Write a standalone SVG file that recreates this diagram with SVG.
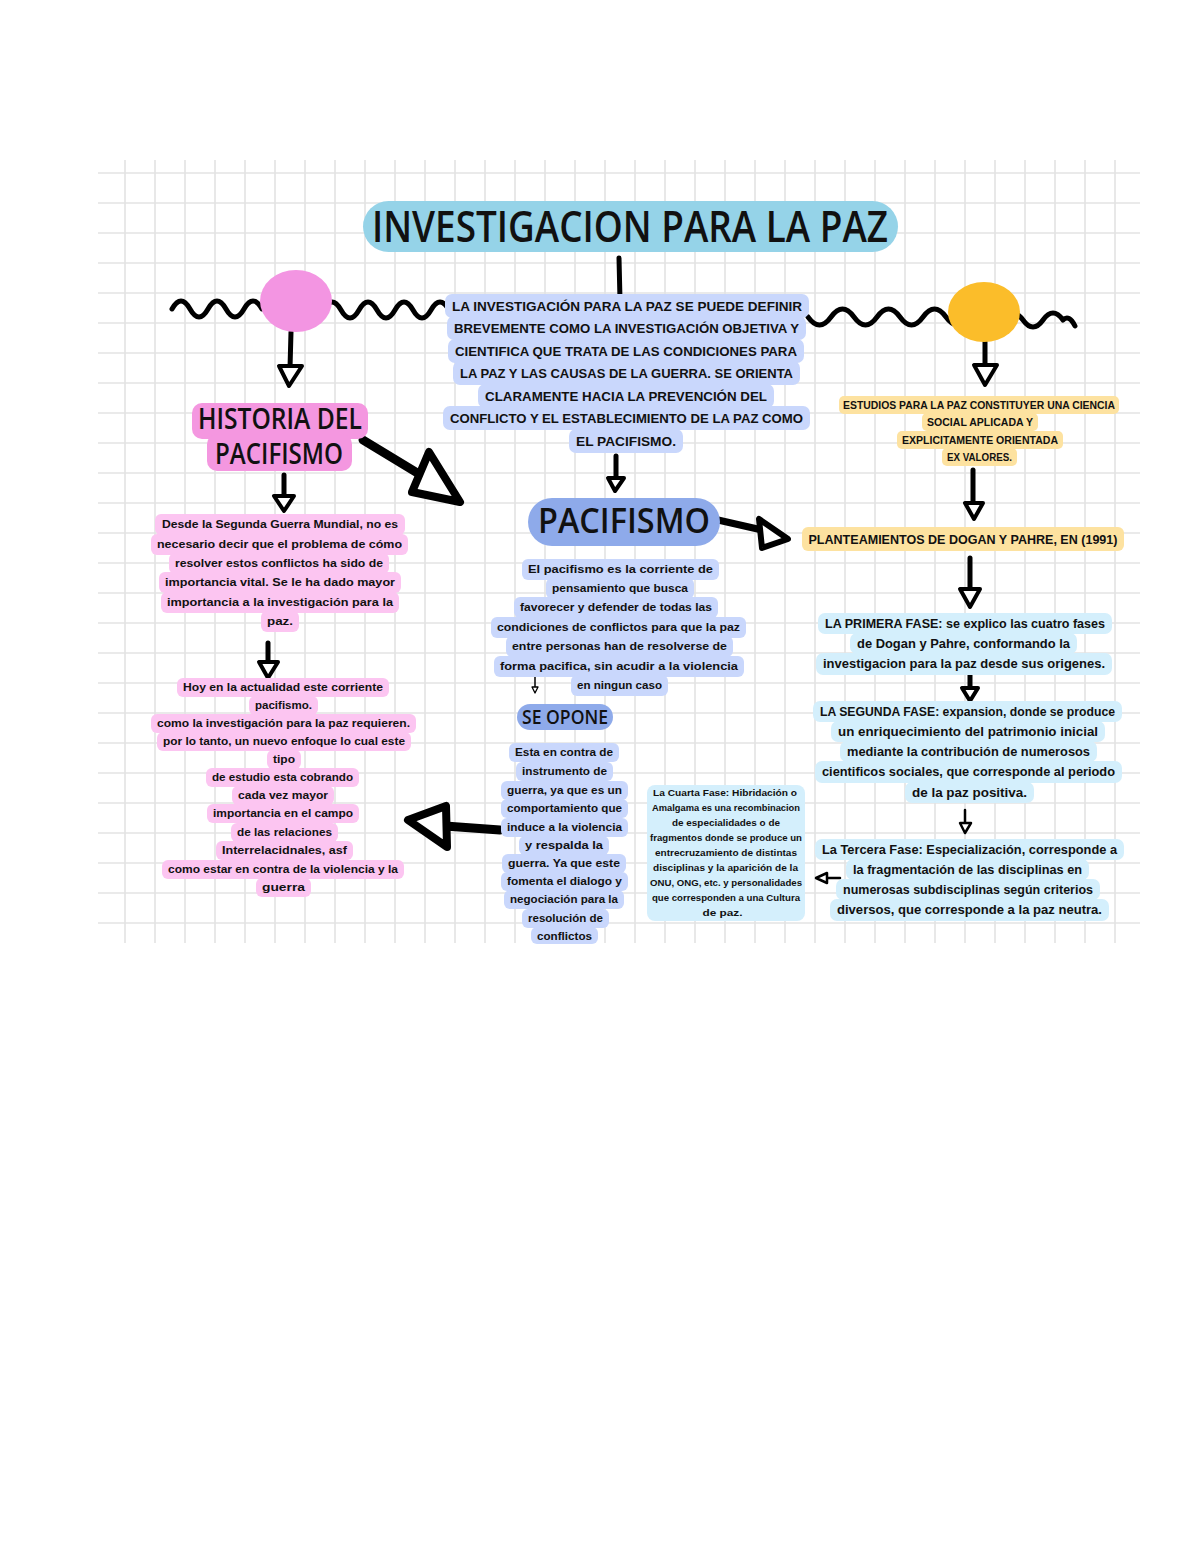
<svg xmlns="http://www.w3.org/2000/svg" width="1200" height="1553" viewBox="0 0 1200 1553">
<style>
.grid{fill:none;stroke:#e3e3e3;stroke-width:1.6}
.ln{fill:none;stroke:#000;stroke-width:5;stroke-linecap:round;stroke-linejoin:round}
.th{fill:none;stroke:#000;stroke-width:2.5;stroke-linecap:round}
.hd{fill:#fff;stroke:#000;stroke-width:4;stroke-linejoin:round}
.hd2{fill:#fff;stroke:#000;stroke-width:2.5;stroke-linejoin:round}
.big{fill:none;stroke:#000;stroke-width:9;stroke-linecap:round}
.bighd{fill:#fff;stroke:#000;stroke-width:8;stroke-linejoin:round}
.wave{fill:none;stroke:#000;stroke-width:5;stroke-linecap:round;stroke-linejoin:round}
.hb{fill:#c9d7fc}
.hp{fill:#fcc5f1}
.ho{fill:#fde2a0}
.hc{fill:#d4effc}
.t{font-family:"Liberation Sans","DejaVu Sans",sans-serif;font-weight:bold;fill:#111;text-anchor:middle}
.h{font-family:"Open Sans","DejaVu Sans",sans-serif;font-weight:600;fill:#111;text-anchor:middle}
</style>
<rect width="1200" height="1553" fill="#fff"/>
<path class="grid" d="M98 173H1140M98 203H1140M98 233H1140M98 263H1140M98 293H1140M98 323H1140M98 353H1140M98 383H1140M98 413H1140M98 443H1140M98 473H1140M98 503H1140M98 533H1140M98 563H1140M98 593H1140M98 623H1140M98 653H1140M98 683H1140M98 713H1140M98 743H1140M98 773H1140M98 803H1140M98 833H1140M98 863H1140M98 893H1140M98 923H1140M125 160V943M155 160V943M185 160V943M215 160V943M245 160V943M275 160V943M305 160V943M335 160V943M365 160V943M395 160V943M425 160V943M455 160V943M485 160V943M515 160V943M545 160V943M575 160V943M605 160V943M635 160V943M665 160V943M695 160V943M725 160V943M755 160V943M785 160V943M815 160V943M845 160V943M875 160V943M905 160V943M935 160V943M965 160V943M995 160V943M1025 160V943M1055 160V943M1085 160V943M1115 160V943"/>

<g id="connectors">
  <line class="ln" x1="619" y1="258" x2="620" y2="300"/>
  <path class="wave" d="M172,309 q9,-16 18,0 t18,0 t18,0 t18,0 t18,0"/>
  <path class="wave" d="M323,310 q9,-16 18,0 t18,0 t18,0 t18,0 t18,0 t18,0 t18,0"/>
  <path class="wave" d="M808,317 q11.5,16 23,0 t23,0 t23,0 t23,0 t23,0 t23,0 t23,0"/>
  <path class="wave" d="M1003,320 q10,-14 20,0 t20,0 t20,0 q6,-6 12,6"/>
  <line class="ln" x1="291" y1="332" x2="290" y2="368"/>
  <polygon class="hd" points="279,366 302,366 289,386"/>
  <line class="ln" x1="985" y1="342" x2="985" y2="367"/>
  <polygon class="hd" points="974,365 997,365 985,385"/>
  <line class="ln" x1="284" y1="475" x2="284" y2="497"/>
  <polygon class="hd" points="274,496 294,496 284,511"/>
  <line class="ln" x1="268" y1="643" x2="268" y2="663"/>
  <polygon class="hd" points="259,662 278,662 268,678"/>
  <line class="ln" x1="616" y1="456" x2="616" y2="479"/>
  <polygon class="hd" points="608,478 624,478 615,491"/>
  <line class="ln" x1="973" y1="470" x2="973" y2="504"/>
  <polygon class="hd" points="965,503 983,503 974,519"/>
  <line class="ln" x1="970" y1="558" x2="970" y2="590"/>
  <polygon class="hd" points="960,589 980,589 970,607"/>
  <line class="ln" x1="970" y1="672" x2="970" y2="689"/>
  <polygon class="hd" points="962,688 978,688 970,701"/>
  <line class="th" x1="965" y1="810" x2="965" y2="824"/>
  <polygon class="hd2" points="960,823 971,823 965,833"/>
  <line class="th" x1="840" y1="878" x2="826" y2="878"/>
  <polygon class="hd2" points="827,873 827,883 816,878"/>
  <line class="th" style="stroke-width:1.5" x1="535" y1="677" x2="535" y2="688"/>
  <polygon class="hd2" style="stroke-width:1.3" points="532,687 538,687 535,693"/>
  <line class="big" x1="363" y1="440" x2="424" y2="477"/>
  <polygon class="bighd" points="412,492 429,452 460,502"/>
  <line class="big" style="stroke-width:7" x1="718" y1="520" x2="762" y2="530"/>
  <polygon class="bighd" style="stroke-width:6" points="759,519 762,548 788,539"/>
  <line class="big" x1="500" y1="830" x2="445" y2="826"/>
  <polygon class="bighd" points="408,820 446,806 447,847"/>
</g>

<g id="deco-circles">
  <ellipse cx="296" cy="301" rx="36" ry="31" fill="#f395e2"/>
  <ellipse cx="984" cy="312" rx="36" ry="30" fill="#fbbd2a"/>
</g>

<g id="title">
  <rect x="363" y="201" width="535" height="51" rx="25.5" fill="#95d3e8"/>
  <text class="h" x="630" y="242" font-size="44" textLength="516" lengthAdjust="spacingAndGlyphs">INVESTIGACION PARA LA PAZ</text>
</g>

<g id="definicion">
  <rect class="hb" x="445" y="294" width="364" height="24" rx="7"/>
  <rect class="hb" x="447" y="316" width="359" height="24" rx="7"/>
  <rect class="hb" x="448" y="339" width="356" height="24" rx="7"/>
  <rect class="hb" x="453" y="361" width="347" height="24" rx="7"/>
  <rect class="hb" x="478" y="384" width="296" height="24" rx="7"/>
  <rect class="hb" x="443" y="406" width="367" height="24" rx="7"/>
  <rect class="hb" x="569" y="429" width="114" height="24" rx="7"/>
  <g class="t" font-size="13">
    <text x="627" y="311" textLength="350" lengthAdjust="spacingAndGlyphs">LA INVESTIGACIÓN PARA LA PAZ SE PUEDE DEFINIR</text>
    <text x="626.5" y="333" textLength="345" lengthAdjust="spacingAndGlyphs">BREVEMENTE COMO LA INVESTIGACIÓN OBJETIVA Y</text>
    <text x="626" y="356" textLength="342" lengthAdjust="spacingAndGlyphs">CIENTIFICA QUE TRATA DE LAS CONDICIONES PARA</text>
    <text x="626.5" y="378" textLength="333" lengthAdjust="spacingAndGlyphs">LA PAZ Y LAS CAUSAS DE LA GUERRA. SE ORIENTA</text>
    <text x="626" y="401" textLength="282" lengthAdjust="spacingAndGlyphs">CLARAMENTE HACIA LA PREVENCIÓN DEL</text>
    <text x="626.5" y="423" textLength="353" lengthAdjust="spacingAndGlyphs">CONFLICTO Y EL ESTABLECIMIENTO DE LA PAZ COMO</text>
    <text x="626" y="446" textLength="100" lengthAdjust="spacingAndGlyphs">EL PACIFISMO.</text>
  </g>
</g>

<g id="historia">
  <rect x="192" y="403" width="176" height="36" rx="10" fill="#f497e0"/>
  <rect x="207" y="434" width="145" height="37" rx="10" fill="#f497e0"/>
  <text class="h" x="280" y="429" font-size="28" textLength="164" lengthAdjust="spacingAndGlyphs">HISTORIA DEL</text>
  <text class="h" x="279" y="464" font-size="28" textLength="128" lengthAdjust="spacingAndGlyphs">PACIFISMO</text>
</g>

<g id="historia-texto1">
  <rect class="hp" x="155" y="514" width="250" height="21" rx="6"/>
  <rect class="hp" x="151" y="534" width="257" height="21" rx="6"/>
  <rect class="hp" x="169" y="553" width="220" height="21" rx="6"/>
  <rect class="hp" x="159" y="572" width="242" height="21" rx="6"/>
  <rect class="hp" x="161" y="592" width="238" height="21" rx="6"/>
  <rect class="hp" x="261" y="611" width="38" height="21" rx="6"/>
  <g class="t" font-size="11.5">
    <text x="280" y="528" textLength="236" lengthAdjust="spacingAndGlyphs">Desde la Segunda Guerra Mundial, no es</text>
    <text x="279.5" y="548" textLength="245" lengthAdjust="spacingAndGlyphs">necesario decir que el problema de cómo</text>
    <text x="279" y="567" textLength="208" lengthAdjust="spacingAndGlyphs">resolver estos conflictos ha sido de</text>
    <text x="280" y="586" textLength="230" lengthAdjust="spacingAndGlyphs">importancia vital. Se le ha dado mayor</text>
    <text x="280" y="606" textLength="226" lengthAdjust="spacingAndGlyphs">importancia a la investigación para la</text>
    <text x="280" y="625" textLength="26" lengthAdjust="spacingAndGlyphs">paz.</text>
  </g>
</g>

<g id="historia-texto2">
  <rect class="hp" x="177" y="678" width="212" height="19" rx="6"/>
  <rect class="hp" x="249" y="696" width="69" height="19" rx="6"/>
  <rect class="hp" x="151" y="714" width="265" height="19" rx="6"/>
  <rect class="hp" x="157" y="732" width="254" height="19" rx="6"/>
  <rect class="hp" x="267" y="750" width="34" height="19" rx="6"/>
  <rect class="hp" x="206" y="768" width="153" height="19" rx="6"/>
  <rect class="hp" x="232" y="786" width="102" height="19" rx="6"/>
  <rect class="hp" x="207" y="804" width="152" height="19" rx="6"/>
  <rect class="hp" x="231" y="823" width="107" height="19" rx="6"/>
  <rect class="hp" x="216" y="841" width="137" height="19" rx="6"/>
  <rect class="hp" x="162" y="860" width="242" height="19" rx="6"/>
  <rect class="hp" x="256" y="878" width="55" height="19" rx="6"/>
  <g class="t" font-size="11">
    <text x="283" y="691" textLength="200" lengthAdjust="spacingAndGlyphs">Hoy en la actualidad este corriente</text>
    <text x="283.5" y="709" textLength="57" lengthAdjust="spacingAndGlyphs">pacifismo.</text>
    <text x="283.5" y="727" textLength="253" lengthAdjust="spacingAndGlyphs">como la investigación para la paz requieren.</text>
    <text x="284" y="745" textLength="242" lengthAdjust="spacingAndGlyphs">por lo tanto, un nuevo enfoque lo cual este</text>
    <text x="284" y="763" textLength="22" lengthAdjust="spacingAndGlyphs">tipo</text>
    <text x="282.5" y="781" textLength="141" lengthAdjust="spacingAndGlyphs">de estudio esta cobrando</text>
    <text x="283" y="799" textLength="90" lengthAdjust="spacingAndGlyphs">cada vez mayor</text>
    <text x="283" y="817" textLength="140" lengthAdjust="spacingAndGlyphs">importancia en el campo</text>
    <text x="284.5" y="836" textLength="95" lengthAdjust="spacingAndGlyphs">de las relaciones</text>
    <text x="284.5" y="854" textLength="125" lengthAdjust="spacingAndGlyphs">Interrelacidnales, asf</text>
    <text x="283" y="873" textLength="230" lengthAdjust="spacingAndGlyphs">como estar en contra de la violencia y la</text>
    <text x="283.5" y="891" textLength="43" lengthAdjust="spacingAndGlyphs">guerra</text>
  </g>
</g>

<g id="pacifismo">
  <rect x="528" y="498" width="192" height="48" rx="24" fill="#8eaaea"/>
  <text class="h" x="624" y="533" font-size="34" textLength="172" lengthAdjust="spacingAndGlyphs">PACIFISMO</text>
</g>

<g id="pacifismo-texto">
  <rect class="hb" x="522" y="559" width="197" height="21" rx="6"/>
  <rect class="hb" x="546" y="578" width="148" height="21" rx="6"/>
  <rect class="hb" x="514" y="597" width="204" height="21" rx="6"/>
  <rect class="hb" x="491" y="617" width="255" height="21" rx="6"/>
  <rect class="hb" x="506" y="636" width="227" height="21" rx="6"/>
  <rect class="hb" x="494" y="656" width="250" height="21" rx="6"/>
  <rect class="hb" x="571" y="675" width="97" height="21" rx="6"/>
  <g class="t" font-size="11.5">
    <text x="620.5" y="573" textLength="185" lengthAdjust="spacingAndGlyphs">El pacifismo es la corriente de</text>
    <text x="620" y="592" textLength="136" lengthAdjust="spacingAndGlyphs">pensamiento que busca</text>
    <text x="616" y="611" textLength="192" lengthAdjust="spacingAndGlyphs">favorecer y defender de todas las</text>
    <text x="618.5" y="631" textLength="243" lengthAdjust="spacingAndGlyphs">condiciones de conflictos para que la paz</text>
    <text x="619.5" y="650" textLength="215" lengthAdjust="spacingAndGlyphs">entre personas han de resolverse de</text>
    <text x="619" y="670" textLength="238" lengthAdjust="spacingAndGlyphs">forma pacifica, sin acudir a la violencia</text>
    <text x="619.5" y="689" textLength="85" lengthAdjust="spacingAndGlyphs">en ningun caso</text>
  </g>
</g>

<g id="se-opone">
  <rect x="517" y="704" width="96" height="26" rx="13" fill="#8eaaea"/>
  <text class="h" x="565" y="724" font-size="19" textLength="86" lengthAdjust="spacingAndGlyphs">SE OPONE</text>
</g>

<g id="se-opone-texto">
  <rect class="hb" x="509" y="743" width="110" height="19" rx="6"/>
  <rect class="hb" x="516" y="762" width="97" height="19" rx="6"/>
  <rect class="hb" x="501" y="781" width="127" height="19" rx="6"/>
  <rect class="hb" x="501" y="799" width="127" height="19" rx="6"/>
  <rect class="hb" x="501" y="818" width="127" height="19" rx="6"/>
  <rect class="hb" x="519" y="836" width="90" height="19" rx="6"/>
  <rect class="hb" x="502" y="854" width="124" height="19" rx="6"/>
  <rect class="hb" x="501" y="872" width="127" height="19" rx="6"/>
  <rect class="hb" x="504" y="890" width="120" height="19" rx="6"/>
  <rect class="hb" x="522" y="909" width="87" height="19" rx="6"/>
  <rect class="hb" x="531" y="927" width="67" height="17" rx="6"/>
  <g class="t" font-size="11">
    <text x="564" y="756" textLength="98" lengthAdjust="spacingAndGlyphs">Esta en contra de</text>
    <text x="564.5" y="775" textLength="85" lengthAdjust="spacingAndGlyphs">instrumento de</text>
    <text x="564.5" y="794" textLength="115" lengthAdjust="spacingAndGlyphs">guerra, ya que es un</text>
    <text x="564.5" y="812" textLength="115" lengthAdjust="spacingAndGlyphs">comportamiento que</text>
    <text x="564.5" y="831" textLength="115" lengthAdjust="spacingAndGlyphs">induce a la violencia</text>
    <text x="564" y="849" textLength="78" lengthAdjust="spacingAndGlyphs">y respalda la</text>
    <text x="564" y="867" textLength="112" lengthAdjust="spacingAndGlyphs">guerra. Ya que este</text>
    <text x="564.5" y="885" textLength="115" lengthAdjust="spacingAndGlyphs">fomenta el dialogo y</text>
    <text x="564" y="903" textLength="108" lengthAdjust="spacingAndGlyphs">negociación para la</text>
    <text x="565.5" y="922" textLength="75" lengthAdjust="spacingAndGlyphs">resolución de</text>
    <text x="564.5" y="940" textLength="55" lengthAdjust="spacingAndGlyphs">conflictos</text>
  </g>
</g>

<g id="cuarta-fase">
  <rect class="hc" x="647" y="785" width="158" height="136" rx="8"/>
  <g class="t" font-size="8.5">
    <text x="725" y="796" textLength="144" lengthAdjust="spacingAndGlyphs">La Cuarta Fase: Hibridación o</text>
    <text x="726" y="811" textLength="148" lengthAdjust="spacingAndGlyphs">Amalgama es una recombinacion</text>
    <text x="726" y="826" textLength="108" lengthAdjust="spacingAndGlyphs">de especialidades o de</text>
    <text x="726" y="841" textLength="152" lengthAdjust="spacingAndGlyphs">fragmentos donde se produce un</text>
    <text x="726" y="856" textLength="142" lengthAdjust="spacingAndGlyphs">entrecruzamiento de distintas</text>
    <text x="725.5" y="871" textLength="145" lengthAdjust="spacingAndGlyphs">disciplinas y la aparición de la</text>
    <text x="726" y="886" textLength="152" lengthAdjust="spacingAndGlyphs">ONU, ONG, etc. y personalidades</text>
    <text x="726" y="901" textLength="148" lengthAdjust="spacingAndGlyphs">que corresponden a una Cultura</text>
    <text x="722.5" y="916" textLength="40" lengthAdjust="spacingAndGlyphs">de paz.</text>
  </g>
</g>

<g id="estudios">
  <rect class="ho" x="839" y="396" width="280" height="18" rx="5"/>
  <rect class="ho" x="922" y="413" width="116" height="18" rx="5"/>
  <rect class="ho" x="897" y="431" width="166" height="18" rx="5"/>
  <rect class="ho" x="942" y="448" width="75" height="18" rx="5"/>
  <g class="t" font-size="10">
    <text x="979" y="409" textLength="272" lengthAdjust="spacingAndGlyphs">ESTUDIOS PARA LA PAZ CONSTITUYER UNA CIENCIA</text>
    <text x="980" y="426" textLength="106" lengthAdjust="spacingAndGlyphs">SOCIAL APLICADA Y</text>
    <text x="980" y="444" textLength="156" lengthAdjust="spacingAndGlyphs">EXPLICITAMENTE ORIENTADA</text>
    <text x="979.5" y="461" textLength="65" lengthAdjust="spacingAndGlyphs">EX VALORES.</text>
  </g>
</g>

<g id="planteamientos">
  <rect class="ho" x="802" y="527" width="322" height="24" rx="6"/>
  <text class="t" x="963" y="544" font-size="13" textLength="309" lengthAdjust="spacingAndGlyphs">PLANTEAMIENTOS DE DOGAN Y PAHRE, EN (1991)</text>
</g>

<g id="primera-fase">
  <rect class="hc" x="818" y="613" width="294" height="21" rx="7"/>
  <rect class="hc" x="850" y="633" width="227" height="21" rx="7"/>
  <rect class="hc" x="816" y="653" width="296" height="22" rx="7"/>
  <g class="t" font-size="12">
    <text x="965" y="628" textLength="280" lengthAdjust="spacingAndGlyphs">LA PRIMERA FASE: se explico las cuatro fases</text>
    <text x="963.5" y="648" textLength="213" lengthAdjust="spacingAndGlyphs">de Dogan y Pahre, conformando la</text>
    <text x="964" y="668" textLength="282" lengthAdjust="spacingAndGlyphs">investigacion para la paz desde sus origenes.</text>
  </g>
</g>

<g id="segunda-fase">
  <rect class="hc" x="813" y="701" width="309" height="21" rx="7"/>
  <rect class="hc" x="831" y="721" width="274" height="21" rx="7"/>
  <rect class="hc" x="840" y="741" width="257" height="21" rx="7"/>
  <rect class="hc" x="815" y="761" width="307" height="22" rx="7"/>
  <rect class="hc" x="905" y="782" width="129" height="21" rx="7"/>
  <g class="t" font-size="12">
    <text x="967.5" y="716" textLength="295" lengthAdjust="spacingAndGlyphs">LA SEGUNDA FASE: expansion, donde se produce</text>
    <text x="968" y="736" textLength="260" lengthAdjust="spacingAndGlyphs">un enriquecimiento del patrimonio inicial</text>
    <text x="968.5" y="756" textLength="243" lengthAdjust="spacingAndGlyphs">mediante la contribución de numerosos</text>
    <text x="968.5" y="776" textLength="293" lengthAdjust="spacingAndGlyphs">cientificos sociales, que corresponde al periodo</text>
    <text x="969.5" y="797" textLength="115" lengthAdjust="spacingAndGlyphs">de la paz positiva.</text>
  </g>
</g>

<g id="tercera-fase">
  <rect class="hc" x="815" y="839" width="309" height="21" rx="7"/>
  <rect class="hc" x="846" y="859" width="243" height="21" rx="7"/>
  <rect class="hc" x="836" y="879" width="264" height="21" rx="7"/>
  <rect class="hc" x="830" y="899" width="279" height="22" rx="7"/>
  <g class="t" font-size="12">
    <text x="969.5" y="854" textLength="295" lengthAdjust="spacingAndGlyphs">La Tercera Fase: Especialización, corresponde a</text>
    <text x="967.5" y="874" textLength="229" lengthAdjust="spacingAndGlyphs">la fragmentación de las disciplinas en</text>
    <text x="968" y="894" textLength="250" lengthAdjust="spacingAndGlyphs">numerosas subdisciplinas según criterios</text>
    <text x="969.5" y="914" textLength="265" lengthAdjust="spacingAndGlyphs">diversos, que corresponde a la paz neutra.</text>
  </g>
</g>
</svg>
